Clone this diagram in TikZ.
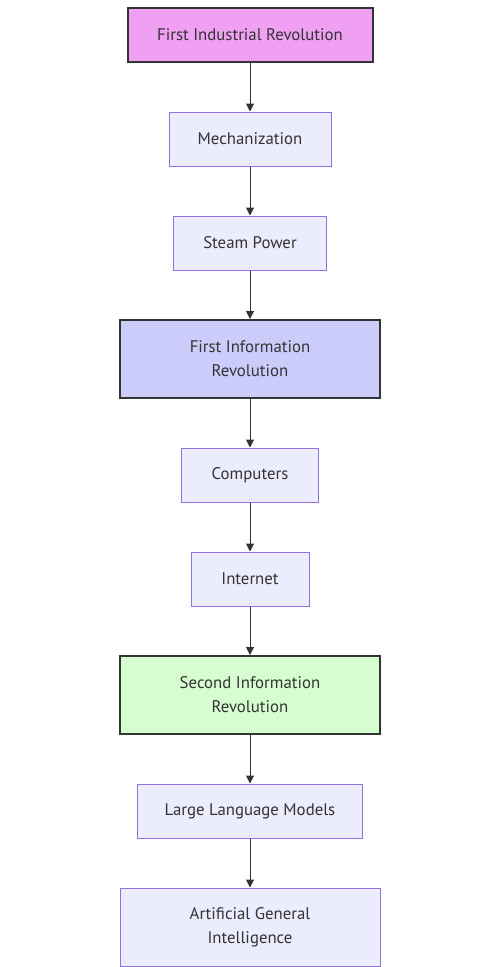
\documentclass[tikz,border=0pt]{standalone}
\usepackage{fontspec}
\setmainfont{PT Sans}
\usetikzlibrary{arrows.meta}
\definecolor{nfill}{HTML}{ECECFF}
\definecolor{nborder}{HTML}{9370DB}
\definecolor{pinkfill}{HTML}{F0A0F2}
\definecolor{bluefill}{HTML}{CCCCFA}
\definecolor{greenfill}{HTML}{D5FDD0}
\definecolor{dark}{HTML}{333333}
\begin{document}
\begin{tikzpicture}[x=1pt,y=1pt,
  box/.style={draw=nborder,fill=nfill,line width=1pt,inner sep=0pt,font=\fontsize{16.8}{24}\selectfont,text=dark,align=center},
  keybox/.style={draw=dark,line width=2pt,inner sep=0pt,font=\fontsize{16.8}{24}\selectfont,text=dark,align=center},
  link/.style={draw=dark,line width=1pt,-{Triangle[length=8pt,width=8pt]}}]
\useasboundingbox (0,0) rectangle (500,-967);
\node[keybox,fill=pinkfill,minimum width=245,minimum height=54] (a) at (250,-35) {First Industrial Revolution};
\node[box,minimum width=162,minimum height=54] (b) at (250,-139) {Mechanization};
\node[box,minimum width=153,minimum height=54] (c) at (250,-243) {Steam Power};
\node[keybox,fill=bluefill,minimum width=260,minimum height=78] (d) at (250,-359) {First Information\\Revolution};
\node[box,minimum width=137,minimum height=54] (e) at (250,-475) {Computers};
\node[box,minimum width=118,minimum height=54] (f) at (250,-579) {Internet};
\node[keybox,fill=greenfill,minimum width=260,minimum height=78] (g) at (250,-695) {Second Information\\Revolution};
\node[box,minimum width=225,minimum height=54] (h) at (250,-811) {Large Language Models};
\node[box,minimum width=260,minimum height=78] (i) at (250,-927) {Artificial General\\Intelligence};
\draw[link] (a) -- (b);
\draw[link] (b) -- (c);
\draw[link] (c) -- (d);
\draw[link] (d) -- (e);
\draw[link] (e) -- (f);
\draw[link] (f) -- (g);
\draw[link] (g) -- (h);
\draw[link] (h) -- (i);
\end{tikzpicture}
\end{document}
